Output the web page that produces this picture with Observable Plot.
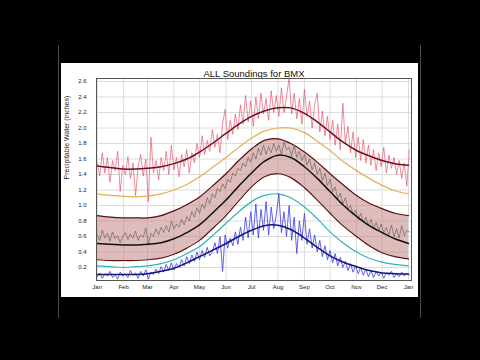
<!DOCTYPE html>
<html>
<head>
<meta charset="utf-8">
<script src="https://cdn.jsdelivr.net/npm/d3@7"></script>
<script src="https://cdn.jsdelivr.net/npm/@observablehq/plot@0.6"></script>
<style>
  html, body { margin: 0; padding: 0; background: #000; width: 480px; height: 360px; overflow: hidden; }
  #panel { position: absolute; left: 61px; top: 63px; width: 357px; height: 234px; background: #fff; }
  .edge { position: absolute; top: 45px; width: 1px; height: 273px; background: #4a4a4a; }
</style>
</head>
<body>
<div class="edge" style="left:58px"></div>
<div class="edge" style="left:420px"></div>
<div id="panel"></div>
<script>
const title = "ALL Soundings for BMX";
const yLabel = "Precipitable Water (inches)";
const monthTicks = [0, 31, 59, 90, 120, 151, 181, 212, 243, 273, 304, 334, 365];
const monthLabels = ["Jan","Feb","Mar","Apr","May","Jun","Jul","Aug","Sep","Oct","Nov","Dec","Jan"];
const yTicks = [0.2, 0.4, 0.6, 0.8, 1.0, 1.2, 1.4, 1.6, 1.8, 2.0, 2.2, 2.4, 2.6];

// smooth climatology curves, semi-monthly
const smoothDays = [0,15,31,45,59,75,90,105,120,135,151,166,181,196,212,227,243,258,273,288,304,319,334,349,365];
const redFit    = [1.51,1.49,1.47,1.47,1.48,1.50,1.54,1.60,1.69,1.80,1.93,2.05,2.15,2.22,2.26,2.26,2.19,2.08,1.95,1.82,1.71,1.64,1.58,1.54,1.52];
const orangeFit = [1.15,1.13,1.12,1.11,1.12,1.15,1.20,1.27,1.37,1.49,1.62,1.75,1.87,1.96,2.00,2.00,1.94,1.83,1.71,1.57,1.45,1.35,1.26,1.19,1.15];
const bandHigh  = [0.87,0.85,0.84,0.84,0.84,0.87,0.93,1.01,1.11,1.25,1.41,1.58,1.73,1.84,1.86,1.80,1.69,1.56,1.41,1.27,1.13,1.03,0.96,0.90,0.87];
const meanFit   = [0.51,0.50,0.49,0.49,0.50,0.52,0.57,0.65,0.75,0.90,1.07,1.25,1.42,1.57,1.65,1.62,1.50,1.35,1.18,1.01,0.86,0.74,0.65,0.57,0.51];
const bandLow   = [0.30,0.29,0.29,0.29,0.30,0.32,0.37,0.45,0.55,0.70,0.87,1.06,1.24,1.37,1.41,1.36,1.23,1.07,0.90,0.74,0.60,0.48,0.39,0.34,0.31];
const tealFit   = [0.22,0.21,0.20,0.21,0.22,0.25,0.30,0.38,0.47,0.61,0.77,0.92,1.05,1.13,1.15,1.10,0.98,0.83,0.66,0.52,0.40,0.32,0.27,0.24,0.22];
const blueFit   = [0.11,0.11,0.11,0.11,0.12,0.15,0.19,0.26,0.34,0.42,0.51,0.60,0.68,0.74,0.745,0.69,0.58,0.46,0.35,0.27,0.21,0.16,0.13,0.12,0.115];

// daily soundings (read every 3rd day)
const redDaily = [1.55,1.38,1.68,1.42,1.62,1.30,1.58,1.45,1.70,1.18,
  1.52,1.40,1.63,1.35,1.55,1.13,1.50,1.66,1.38,1.60,
  1.05,1.88,1.42,1.58,1.33,1.62,1.45,1.70,1.40,1.78,
  1.46,1.62,1.37,1.66,1.50,1.72,1.42,1.68,1.55,1.80,
  1.62,1.90,1.66,1.84,1.70,1.98,1.75,1.92,1.68,2.05,
  2.24,1.85,2.10,1.92,2.18,1.98,2.30,2.05,2.42,2.08,
  2.35,2.02,2.40,2.12,2.45,2.18,2.38,2.10,2.48,2.20,
  2.42,2.15,2.52,2.20,2.40,2.65,2.18,2.45,2.12,2.38,
  2.05,2.50,2.15,2.35,2.00,2.30,2.45,1.95,2.22,1.90,
  2.15,1.85,2.10,1.78,2.05,1.72,2.32,1.80,2.02,1.68,
  1.95,1.62,1.88,1.58,1.85,1.55,1.78,1.52,1.72,1.45,
  1.68,1.50,1.75,1.42,1.65,1.48,1.62,1.40,1.58,1.35,
  1.55,1.25,1.72];
const blackDaily = [0.62,0.55,0.68,0.58,0.64,0.54,0.66,0.57,0.61,0.52,
  0.60,0.65,0.56,0.63,0.58,0.67,0.55,0.62,0.59,0.71,
  0.50,0.64,0.60,0.70,0.62,0.72,0.65,0.74,0.66,0.80,
  0.70,0.76,0.72,0.82,0.75,0.86,0.80,0.92,0.85,0.97,
  0.90,1.02,0.96,1.10,1.02,1.15,1.10,1.22,1.18,1.28,
  1.22,1.34,1.30,1.42,1.38,1.48,1.45,1.55,1.50,1.62,
  1.56,1.68,1.60,1.74,1.65,1.78,1.66,1.76,1.68,1.80,
  1.70,1.78,1.66,1.82,1.72,1.75,1.64,1.78,1.62,1.70,
  1.58,1.66,1.52,1.60,1.46,1.55,1.40,1.48,1.32,1.42,
  1.26,1.34,1.18,1.24,1.08,1.16,1.02,1.10,0.95,1.00,
  0.88,0.94,0.82,0.90,0.78,0.85,0.74,0.82,0.70,0.78,
  0.68,0.76,0.64,0.72,0.62,0.75,0.60,0.70,0.58,0.74,
  0.61,0.68,0.66];
const blueDaily = [0.08,0.13,0.06,0.12,0.09,0.15,0.07,0.11,0.05,0.14,
  0.09,0.12,0.07,0.16,0.10,0.13,0.06,0.15,0.09,0.17,
  0.05,0.14,0.11,0.18,0.12,0.21,0.14,0.24,0.16,0.26,
  0.17,0.25,0.20,0.30,0.22,0.34,0.25,0.36,0.28,0.40,
  0.30,0.42,0.33,0.46,0.35,0.40,0.52,0.38,0.60,0.15,
  0.62,0.45,0.58,0.48,0.66,0.50,0.72,0.55,0.85,0.58,
  0.92,0.62,1.02,0.58,0.95,0.68,1.05,0.62,0.98,0.70,
  0.88,1.15,0.65,0.92,0.60,1.00,0.55,0.85,0.38,0.80,
  0.55,0.90,0.50,0.70,0.45,0.62,0.40,0.55,0.34,0.48,
  0.30,0.42,0.26,0.38,0.22,0.33,0.20,0.28,0.16,0.25,
  0.14,0.22,0.12,0.20,0.10,0.18,0.08,0.16,0.07,0.15,
  0.09,0.14,0.06,0.13,0.10,0.15,0.07,0.12,0.08,0.14,
  0.09,0.12,0.10];
const dailyDays = d3.range(0, 367, 3);

const smooth = smoothDays.map((day, i) => ({day, red: redFit[i], orange: orangeFit[i], hi: bandHigh[i], mean: meanFit[i], lo: bandLow[i], teal: tealFit[i], blue: blueFit[i]}));
const daily = dailyDays.map((day, i) => ({day, red: redDaily[i], black: blackDaily[i], blue: blueDaily[i]}));

const C = "catmull-rom";
const chart = Plot.plot({
  width: 357, height: 234,
  marginLeft: 35, marginRight: 7, marginTop: 15, marginBottom: 17,
  style: {fontFamily: "'Liberation Sans', Arial, sans-serif", fontSize: "6px", background: "#fff", color: "#222", overflow: "visible"},
  x: {domain: [-0.8, 368.5]},
  y: {domain: [0.032, 2.639]},
  marks: [
    Plot.gridX(monthTicks, {stroke: "#dcdcdc", strokeOpacity: 1}),
    Plot.gridY(yTicks, {stroke: "#dcdcdc", strokeOpacity: 1}),
    Plot.areaY(smooth, {x: "day", y1: "lo", y2: "hi", fill: "#c48585", fillOpacity: 0.55, curve: C}),
    Plot.line(daily, {x: "day", y: "red", stroke: "#e44a62", strokeWidth: 0.8, strokeOpacity: 0.8}),
    Plot.line(smooth, {x: "day", y: "red", stroke: "#6e1020", strokeWidth: 1.5, curve: C}),
    Plot.line(smooth, {x: "day", y: "orange", stroke: "#e3b055", strokeWidth: 1.2, curve: C}),
    Plot.line(smooth, {x: "day", y: "hi", stroke: "#5a1414", strokeWidth: 1.2, curve: C}),
    Plot.line(smooth, {x: "day", y: "lo", stroke: "#5a1414", strokeWidth: 1.2, curve: C}),
    Plot.line(daily, {x: "day", y: "black", stroke: "#555", strokeWidth: 0.6}),
    Plot.line(smooth, {x: "day", y: "mean", stroke: "#111", strokeWidth: 1.5, curve: C}),
    Plot.line(smooth, {x: "day", y: "teal", stroke: "#2fb5b5", strokeWidth: 1.2, curve: C}),
    Plot.line(daily, {x: "day", y: "blue", stroke: "#3b3be8", strokeWidth: 0.8}),
    Plot.line(smooth, {x: "day", y: "blue", stroke: "#151575", strokeWidth: 1.5, curve: C}),
    Plot.axisX(monthTicks, {tickSize: 0, tickPadding: 4, tickFormat: d => monthLabels[monthTicks.indexOf(d)], label: null}),
    Plot.axisY(yTicks, {tickSize: 0, tickPadding: 10, tickFormat: ".1f", label: null}),
    Plot.text([yLabel], {frameAnchor: "left", rotate: -90, dx: -30, fontSize: 7, fill: "#222"}),
    Plot.text([title], {frameAnchor: "top", dy: -8, fontSize: 9.5, fill: "#111"}),
    Plot.frame({stroke: "#555"})
  ]
});
document.getElementById("panel").appendChild(chart);
</script>
</body>
</html>
